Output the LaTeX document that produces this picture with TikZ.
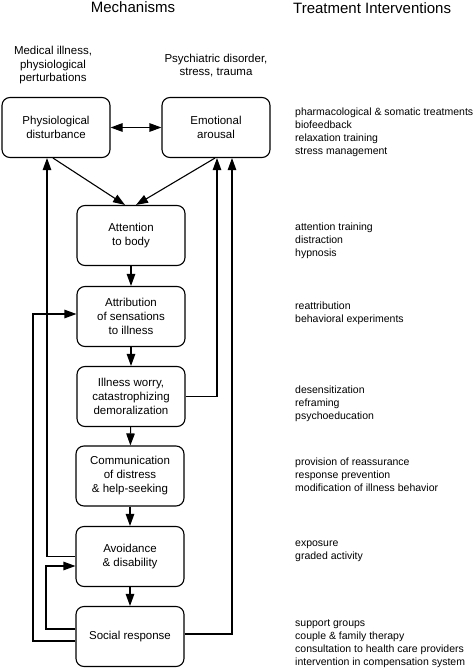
\documentclass[tikz,border=0pt]{standalone}
\usepackage{fontspec}
\setmainfont{Liberation Sans}
\usetikzlibrary{arrows.meta}
\begin{document}
\begin{tikzpicture}[x=1pt,y=-1pt,
  mbox/.style={draw, line width=1.1pt, rounded corners=8pt, minimum width=108pt, minimum height=60pt,
    align=center, inner sep=0pt, font=\fontsize{11.5}{14}\selectfont},
  lbl/.style={align=center, inner sep=0pt, font=\fontsize{11.5}{13.5}\selectfont},
  hdr/.style={inner sep=0pt, font=\fontsize{15}{18}\selectfont},
  tlist/.style={align=left, inner sep=0pt, anchor=north west, font=\fontsize{10.5}{12.8}\selectfont},
  conn/.style={line width=1.1pt, -{Triangle[length=12pt,width=8.5pt]}},
  dconn/.style={line width=1.1pt, {Triangle[length=12pt,width=8.5pt]}-{Triangle[length=12pt,width=8.5pt]}}
]
\useasboundingbox (0,0) rectangle (474,669);

% headers
\node[hdr, anchor=base] (hm) at (133,12.5) {Mechanisms};
\node[hdr, anchor=base west] (ht) at (293,13.5) {Treatment Interventions};

% top labels
\node[lbl] (med) at (53,65.5) {Medical illness,\\physiological\\perturbations};
\node[lbl] (psy) at (216,65.5) {Psychiatric disorder,\\stress, trauma};

% boxes
\node[mbox] (phys) at (56,127.5) {Physiological\\disturbance};
\node[mbox] (emo) at (216,127.5) {Emotional\\arousal};
\node[mbox] (att) at (131,235.5) {Attention\\to body};
\node[mbox] (attr) at (131,316.5) {Attribution\\of sensations\\to illness};
\node[mbox] (worry) at (131,396.5) {Illness worry,\\catastrophizing\\demoralization};
\node[mbox] (comm) at (130,476) {Communication\\of distress\\\& help-seeking};
\node[mbox] (avoid) at (130,556.5) {Avoidance\\\& disability};
\node[mbox] (social) at (130,636.5) {Social response};

% coordinates for left connectors
\coordinate (lx1) at (33,314);
\coordinate (lx2) at (46,566);

% connectors
\draw[dconn] (phys.east) -- (emo.west);
\draw[conn] ([xshift=-3pt]phys.south) -- ([xshift=-6pt]att.north);
\draw[conn] ([xshift=-1pt]emo.south) -- ([xshift=5pt]att.north);
\draw[conn] (att) -- (attr);
\draw[conn] (attr) -- (worry);
\draw[conn] (worry) -- (comm);
\draw[conn] (comm) -- (avoid);
\draw[conn] (avoid) -- (social);

\draw[conn] (avoid.west) -| ([xshift=-9pt]phys.south);
\draw[conn] ([yshift=-4.5pt]social.west) -| (lx1) -- (lx1 -| attr.west);
\draw[conn] ([yshift=7.5pt]social.west) -| (lx2) -- (lx2 -| avoid.west);
\draw[conn] (worry.east) -| ([xshift=1pt]emo.south);
\draw[conn] ([yshift=2.5pt]social.east) -| ([xshift=16pt]emo.south);

% treatment lists
\node[tlist] (t1) at (295,108) {pharmacological \& somatic treatments\\biofeedback\\relaxation training\\stress management};
\node[tlist] (t2) at (295,223) {attention training\\distraction\\hypnosis};
\node[tlist] (t3) at (295,302) {reattribution\\behavioral experiments};
\node[tlist] (t4) at (295,386) {desensitization\\reframing\\psychoeducation};
\node[tlist] (t5) at (295,458) {provision of reassurance\\response prevention\\modification of illness behavior};
\node[tlist] (t6) at (295,541) {exposure\\graded activity};
\node[tlist] (t7) at (295,620) {support groups\\couple \& family therapy\\consultation to health care providers\\intervention in compensation system};
\end{tikzpicture}
\end{document}
